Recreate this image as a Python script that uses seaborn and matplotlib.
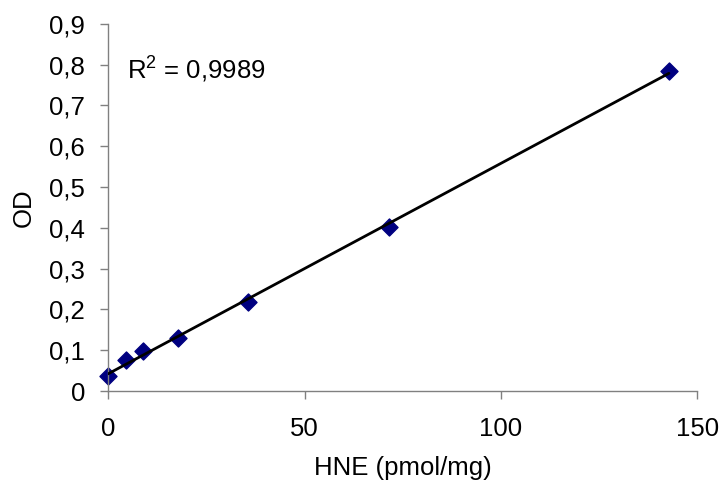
import matplotlib
matplotlib.use("Agg")
import matplotlib.pyplot as plt
import seaborn as sns
import pandas as pd
from matplotlib.ticker import FuncFormatter, MultipleLocator

hne = [0, 4.46, 8.93, 17.86, 35.7, 71.4, 142.8]
od = [0.036, 0.077, 0.099, 0.129, 0.219, 0.401, 0.785]
r2_label = "R$^2$ = 0,9989"

sns.set_theme(style="white")
plt.rcParams['font.family'] = ['Liberation Sans', 'DejaVu Sans']
plt.rcParams['mathtext.fontset'] = 'custom'
plt.rcParams['mathtext.rm'] = 'Liberation Sans'

FS = 18.5
df = pd.DataFrame({"HNE": hne, "OD": od})
fig = plt.figure(figsize=(7.21, 4.87), dpi=100)
ax = fig.add_axes([0.15, 0.197, 0.817, 0.754])

sns.regplot(data=df, x="HNE", y="OD", ax=ax, ci=None, marker="D",
            scatter_kws=dict(s=75, color="#000080", edgecolors="#000080", zorder=2, alpha=1),
            line_kws=dict(color="black", lw=2, zorder=3))

ax.set_xlim(0, 150)
ax.set_ylim(0, 0.9)
ax.xaxis.set_major_locator(MultipleLocator(50))
ax.yaxis.set_major_locator(MultipleLocator(0.1))
ax.yaxis.set_major_formatter(FuncFormatter(lambda v, p: "0" if abs(v) < 1e-9 else f"{v:.1f}".replace(".", ",")))
for s in ["top", "right"]:
    ax.spines[s].set_visible(False)
for s in ["left", "bottom"]:
    ax.spines[s].set_color("#808080")
    ax.spines[s].set_linewidth(1)
ax.tick_params(axis="both", which="major", direction="out", length=5.5, width=1,
               color="#808080", labelsize=FS, labelcolor="black", bottom=True, left=True, pad=11)
ax.tick_params(axis="x", pad=13)
ax.set_xlabel("HNE (pmol/mg)", fontsize=FS, labelpad=11, color="black")
ax.set_ylabel("OD", fontsize=FS, labelpad=10, color="black")
ax.text(4.8, 0.79, r2_label, fontsize=FS, va="center", ha="left", color="black")
for sp in ax.spines.values():
    sp.set_clip_on(False)
ax.collections[0].set_clip_on(False)

fig.savefig("out.png", dpi=100)
